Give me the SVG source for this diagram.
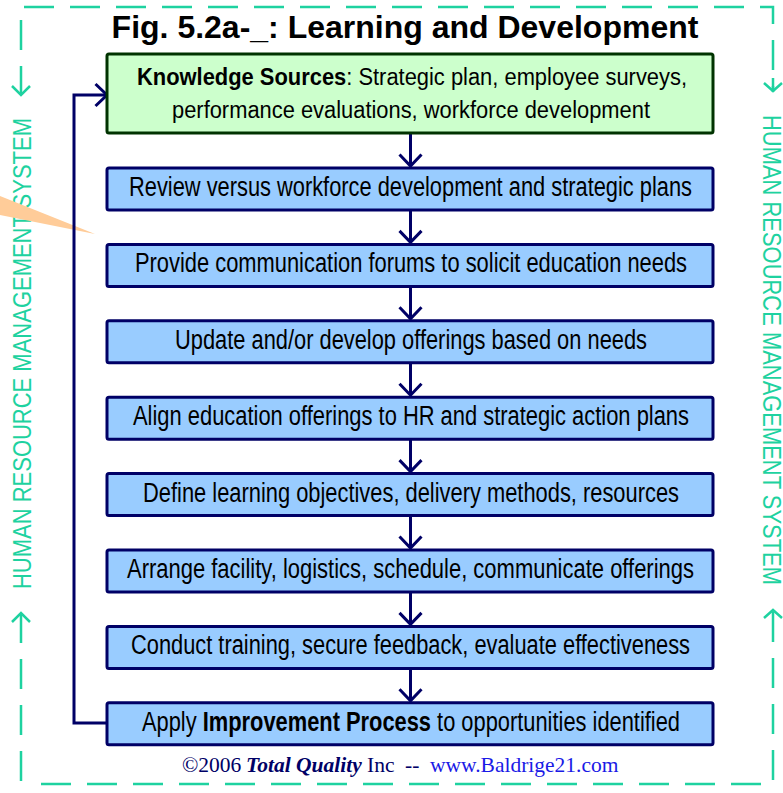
<svg xmlns="http://www.w3.org/2000/svg" width="783" height="793" viewBox="0 0 783 793">
<style>
.bdr{fill:none;stroke:#1ED2A0;stroke-width:2.5;stroke-dasharray:30 16}
.chv{fill:none;stroke:#1ED2A0;stroke-width:2.5}
.side{font-family:"Liberation Sans Narrow","Liberation Sans",Arial,sans-serif;font-size:25px;fill:#1ED2A0}
.box{fill:#99CCFF;stroke:#000066;stroke-width:3}
.gbox{fill:#CCFFCC;stroke:#003300;stroke-width:3}
.t{font-family:"Liberation Sans Narrow","Liberation Sans",Arial,sans-serif;font-size:27px;fill:#000;text-anchor:middle}
.g{font-family:"Liberation Sans Narrow","Liberation Sans",Arial,sans-serif;font-size:23px;fill:#000;text-anchor:middle}
.b{font-weight:bold}
.conn{fill:none;stroke:#000066;stroke-width:3}
.ft{font-family:"Liberation Serif","Times New Roman",serif;font-size:21.5px;fill:#000066}
</style>
<defs>
<marker id="chev" markerUnits="userSpaceOnUse" markerWidth="26" markerHeight="26" refX="13" refY="13" orient="auto" viewBox="0 0 26 26">
<path d="M1.5,2 L13,13 L1.5,24" fill="none" stroke="#000066" stroke-width="3"/>
</marker>
</defs>
<g id="border">
<path class="bdr" d="M24,7 H773 V92"/>
<path class="bdr" d="M773,612 V784 H28"/>
<path class="bdr" d="M21,20 V95"/>
<path class="bdr" d="M21,613 V782"/>
<line class="chv" x1="773" y1="78" x2="773" y2="91"/>
<path class="chv" d="M764,83 L773,91 L782,83"/>
<path class="chv" d="M764,618 L773,610 L782,618"/>
<path class="chv" d="M12,86 L21,95 L30,86"/>
<path class="chv" d="M12,622 L21,613 L30,622"/>
<text class="side" transform="translate(31,589) rotate(-90)" textLength="471" lengthAdjust="spacingAndGlyphs">HUMAN RESOURCE MANAGEMENT SYSTEM</text>
<text class="side" transform="translate(763,115) rotate(90)" textLength="470" lengthAdjust="spacingAndGlyphs">HUMAN RESOURCE MANAGEMENT SYSTEM</text>
</g>
<g id="pointer">
<polygon points="0,196 95,234 0,215" fill="#FFCC99"/>
</g>
<g id="title">
<text x="405" y="38" text-anchor="middle" font-family="'Liberation Sans',Arial,sans-serif" font-size="32" font-weight="bold" fill="#000">Fig. 5.2a-_: Learning and Development</text>
</g>
<g id="connectors">
<line class="conn" x1="410.5" y1="133" x2="410.5" y2="166" marker-end="url(#chev)"/>
<line class="conn" x1="410.5" y1="210" x2="410.5" y2="242.4" marker-end="url(#chev)"/>
<line class="conn" x1="410.5" y1="286.4" x2="410.5" y2="318.8" marker-end="url(#chev)"/>
<line class="conn" x1="410.5" y1="362.8" x2="410.5" y2="395.2" marker-end="url(#chev)"/>
<line class="conn" x1="410.5" y1="439.2" x2="410.5" y2="471.6" marker-end="url(#chev)"/>
<line class="conn" x1="410.5" y1="515.6" x2="410.5" y2="548" marker-end="url(#chev)"/>
<line class="conn" x1="410.5" y1="592" x2="410.5" y2="624.4" marker-end="url(#chev)"/>
<line class="conn" x1="410.5" y1="668.4" x2="410.5" y2="700.8" marker-end="url(#chev)"/>
<path class="conn" d="M107,723 H74 V95 H107" marker-end="url(#chev)"/>
</g>
<g id="n0">
<rect class="gbox" x="107" y="54" width="606" height="79" rx="2"/>
<text class="g" x="412" y="85" textLength="550" lengthAdjust="spacingAndGlyphs"><tspan class="b">Knowledge Sources</tspan>: Strategic plan, employee surveys,</text>
<text class="g" x="411" y="118" textLength="478" lengthAdjust="spacingAndGlyphs">performance evaluations, workforce development</text>
</g>
<g id="n1">
<rect class="box" x="107" y="168" width="606" height="42" rx="2"/>
<text class="t" x="410.5" y="196" textLength="563" lengthAdjust="spacingAndGlyphs">Review versus workforce development and strategic plans</text>
</g>
<g id="n2">
<rect class="box" x="107" y="244.4" width="606" height="42" rx="2"/>
<text class="t" x="411" y="272.4" textLength="552" lengthAdjust="spacingAndGlyphs">Provide communication forums to solicit education needs</text>
</g>
<g id="n3">
<rect class="box" x="107" y="320.8" width="606" height="42" rx="2"/>
<text class="t" x="411" y="348.8" textLength="472" lengthAdjust="spacingAndGlyphs">Update and/or develop offerings based on needs</text>
</g>
<g id="n4">
<rect class="box" x="107" y="397.2" width="606" height="42" rx="2"/>
<text class="t" x="411" y="425.2" textLength="556" lengthAdjust="spacingAndGlyphs">Align education offerings to HR and strategic action plans</text>
</g>
<g id="n5">
<rect class="box" x="107" y="473.6" width="606" height="42" rx="2"/>
<text class="t" x="411" y="501.6" textLength="536" lengthAdjust="spacingAndGlyphs">Define learning objectives, delivery methods, resources</text>
</g>
<g id="n6">
<rect class="box" x="107" y="550" width="606" height="42" rx="2"/>
<text class="t" x="410.5" y="578" textLength="567" lengthAdjust="spacingAndGlyphs">Arrange facility, logistics, schedule, communicate offerings</text>
</g>
<g id="n7">
<rect class="box" x="107" y="626.4" width="606" height="42" rx="2"/>
<text class="t" x="410.5" y="654.4" textLength="559" lengthAdjust="spacingAndGlyphs">Conduct training, secure feedback, evaluate effectiveness</text>
</g>
<g id="n8">
<rect class="box" x="107" y="702.8" width="606" height="42" rx="2"/>
<text class="t" x="411" y="730.8" textLength="538" lengthAdjust="spacingAndGlyphs">Apply <tspan class="b">Improvement Process</tspan> to opportunities identified</text>
</g>
<g id="footer">
<text class="ft" y="772"><tspan x="182">©2006</tspan><tspan x="246" font-weight="bold" font-style="italic">Total Quality</tspan><tspan x="367">Inc</tspan><tspan x="405">--</tspan><tspan x="430" fill="#1A1AE6">www.Baldrige21.com</tspan></text>
</g>
</svg>
